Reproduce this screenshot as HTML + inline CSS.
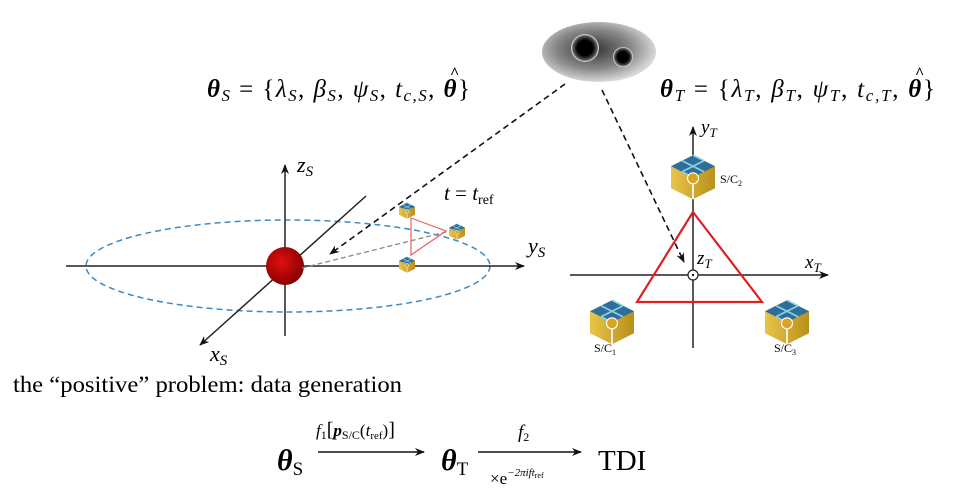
<!DOCTYPE html>
<html><head><meta charset="utf-8"><style>
body{margin:0;background:#fff;}
svg{display:block;font-family:"Liberation Serif","DejaVu Serif",serif;}
</style></head><body>
<svg width="960" height="500" viewBox="0 0 960 500" xmlns="http://www.w3.org/2000/svg">
<defs>
<marker id="ah" markerWidth="10" markerHeight="8" refX="9" refY="4" orient="auto" markerUnits="userSpaceOnUse"><path d="M0,0 L10,4 L0,8 L3,4z" fill="#111"/></marker>
<radialGradient id="sun" cx="40%" cy="40%" r="60%"><stop offset="0" stop-color="#e01010"/><stop offset="1" stop-color="#8a0000"/></radialGradient>
<radialGradient id="blob" cx="45%" cy="45%" r="55%"><stop offset="0" stop-color="#333"/><stop offset="0.6" stop-color="#888"/><stop offset="1" stop-color="#d8d8d8"/></radialGradient>
<radialGradient id="hole"><stop offset="0.55" stop-color="#000"/><stop offset="0.85" stop-color="#555"/><stop offset="1" stop-color="#eee"/></radialGradient>
<linearGradient id="gold" x1="0" x2="1"><stop offset="0" stop-color="#e8c44a"/><stop offset="1" stop-color="#b8901c"/></linearGradient>
<g id="sat">
<path d="M-20,-8 L0,-18 L20,-8 L20,12 L0,22 L-20,12z" fill="url(#gold)"/>
<path d="M-20,-8 L0,-18 L20,-8 L0,2z" fill="#2d6f9a"/>
<path d="M-10,-13 L10,-3 M0,-18 L10,-13 M10,-13 L-10,-3 M-10,-3 L0,2" stroke="#8fd0e0" stroke-width="1.5"/>
<line x1="0" y1="2" x2="0" y2="22" stroke="#fff" stroke-width="1.5"/>
<circle cx="0" cy="3" r="5" fill="#d9a520" stroke="#fff" stroke-width="1"/>
</g>
</defs>

<ellipse cx="599" cy="52" rx="57" ry="30" fill="url(#blob)"/>
<circle cx="585" cy="48" r="14" fill="url(#hole)"/>
<circle cx="623" cy="57" r="10" fill="url(#hole)"/>

<text x="207" y="97" font-size="25" font-style="italic" textLength="263" lengthAdjust="spacing"><tspan font-weight="bold">θ</tspan><tspan font-size="17" dy="4">S</tspan><tspan dy="-4" font-style="normal"> = {</tspan>λ<tspan font-size="17" dy="4">S</tspan><tspan dy="-4" font-style="normal">, </tspan>β<tspan font-size="17" dy="4">S</tspan><tspan dy="-4" font-style="normal">, </tspan>ψ<tspan font-size="17" dy="4">S</tspan><tspan dy="-4" font-style="normal">, </tspan>t<tspan font-size="17" dy="4">c,S</tspan><tspan dy="-4" font-style="normal">, </tspan><tspan font-weight="bold">θ</tspan><tspan font-style="normal">}</tspan></text>
<text x="450" y="78" font-size="16" font-weight="bold">^</text>
<text x="660" y="97" font-size="25" font-style="italic" textLength="275" lengthAdjust="spacing"><tspan font-weight="bold">θ</tspan><tspan font-size="17" dy="4">T</tspan><tspan dy="-4" font-style="normal"> = {</tspan>λ<tspan font-size="17" dy="4">T</tspan><tspan dy="-4" font-style="normal">, </tspan>β<tspan font-size="17" dy="4">T</tspan><tspan dy="-4" font-style="normal">, </tspan>ψ<tspan font-size="17" dy="4">T</tspan><tspan dy="-4" font-style="normal">, </tspan>t<tspan font-size="17" dy="4">c,T</tspan><tspan dy="-4" font-style="normal">, </tspan><tspan font-weight="bold">θ</tspan><tspan font-style="normal">}</tspan></text>
<text x="915" y="78" font-size="16" font-weight="bold">^</text>

<ellipse cx="288" cy="266" rx="202" ry="46" fill="none" stroke="#3a8ac8" stroke-width="1.5" stroke-dasharray="6,4"/>
<line x1="66" y1="266" x2="524" y2="266" stroke="#222" stroke-width="1.5" marker-end="url(#ah)"/>
<line x1="285" y1="336" x2="285" y2="165" stroke="#222" stroke-width="1.5" marker-end="url(#ah)"/>
<line x1="366" y1="196" x2="200" y2="345" stroke="#222" stroke-width="1.5" marker-end="url(#ah)"/>
<circle cx="285" cy="266" r="19" fill="url(#sun)"/>
<line x1="302" y1="268" x2="446" y2="232" stroke="#888" stroke-width="1.3" stroke-dasharray="5,3"/>
<polygon points="411,218 446,231 411,255" fill="none" stroke="#e86060" stroke-width="1.2"/>
<use href="#sat" transform="translate(407,210) scale(0.4)"/>
<use href="#sat" transform="translate(457,231) scale(0.4)"/>
<use href="#sat" transform="translate(407,264) scale(0.4)"/>
<line x1="565" y1="84" x2="330" y2="254" stroke="#111" stroke-width="1.6" stroke-dasharray="6,4" marker-end="url(#ah)"/>
<text x="297" y="172" font-size="22" font-style="italic">z<tspan font-size="15" dy="4">S</tspan></text>
<text x="210" y="361" font-size="22" font-style="italic">x<tspan font-size="15" dy="4">S</tspan></text>
<text x="528" y="253" font-size="22" font-style="italic">y<tspan font-size="15" dy="4">S</tspan></text>
<text x="444" y="200" font-size="21" font-style="italic">t <tspan font-style="normal">=</tspan> t<tspan font-size="14" font-style="normal" dy="4">ref</tspan></text>

<line x1="570" y1="275" x2="828" y2="275" stroke="#222" stroke-width="1.5" marker-end="url(#ah)"/>
<line x1="693" y1="348" x2="693" y2="127" stroke="#222" stroke-width="1.5" marker-end="url(#ah)"/>
<polygon points="693,212 637,302 762,302" fill="none" stroke="#e02020" stroke-width="2.2"/>
<circle cx="693" cy="275" r="5" fill="#fff" stroke="#222" stroke-width="1.2"/>
<circle cx="693" cy="275" r="1.2" fill="#222"/>
<use href="#sat" transform="translate(693,175) scale(1.1)"/>
<use href="#sat" transform="translate(612,320) scale(1.1)"/>
<use href="#sat" transform="translate(787,320) scale(1.1)"/>
<line x1="602" y1="90" x2="684" y2="262" stroke="#111" stroke-width="1.6" stroke-dasharray="6,4" marker-end="url(#ah)"/>
<text x="701" y="133" font-size="19" font-style="italic">y<tspan font-size="13" dy="4">T</tspan></text>
<text x="697" y="264" font-size="19" font-style="italic">z<tspan font-size="13" dy="4">T</tspan></text>
<text x="805" y="268" font-size="19" font-style="italic">x<tspan font-size="13" dy="4">T</tspan></text>
<text x="720" y="183" font-size="12">S/C<tspan font-size="8" dy="3">2</tspan></text>
<text x="594" y="352" font-size="12">S/C<tspan font-size="8" dy="3">1</tspan></text>
<text x="774" y="352" font-size="12">S/C<tspan font-size="8" dy="3">3</tspan></text>

<text x="13" y="392" font-size="23" textLength="389" lengthAdjust="spacingAndGlyphs">the “positive” problem: data generation</text>

<text x="277" y="470" font-size="30" font-style="italic" font-weight="bold">θ<tspan font-size="19" font-weight="normal" font-style="normal" dy="5">S</tspan></text>
<line x1="318" y1="452" x2="424" y2="452" stroke="#111" stroke-width="1.6" marker-end="url(#ah)"/>
<text x="316" y="436" font-size="17" font-style="italic">f<tspan font-size="12" dy="3" font-style="normal">1</tspan><tspan dy="-3" font-style="normal" font-size="20">[</tspan><tspan font-weight="bold">p</tspan><tspan font-size="12" dy="3" font-style="normal">S/C</tspan><tspan dy="-3" font-style="normal">(</tspan>t<tspan font-size="11" dy="3" font-style="normal">ref</tspan><tspan dy="-3" font-style="normal">)</tspan><tspan font-style="normal" font-size="20">]</tspan></text>
<text x="441" y="470" font-size="30" font-style="italic" font-weight="bold">θ<tspan font-size="19" font-weight="normal" font-style="normal" dy="5">T</tspan></text>
<line x1="478" y1="452" x2="581" y2="452" stroke="#111" stroke-width="1.6" marker-end="url(#ah)"/>
<text x="518" y="438" font-size="19" font-style="italic">f<tspan font-size="12" dy="3" font-style="normal">2</tspan></text>
<text x="490" y="484" font-size="17">×e<tspan font-size="11" font-style="italic" dy="-8">−2πift</tspan><tspan font-size="8" dy="2">ref</tspan></text>
<text x="598" y="470" font-size="29">TDI</text>
</svg>
</body></html>
